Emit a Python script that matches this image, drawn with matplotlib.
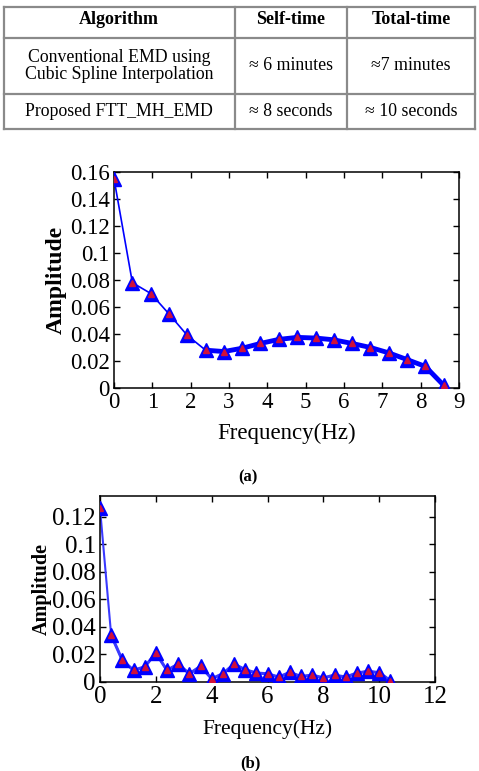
import numpy as np
import matplotlib
matplotlib.use("Agg")
import matplotlib.pyplot as plt

plt.rcParams['font.family'] = ['Liberation Serif', 'DejaVu Serif']

# table contents
table_header = ["Algorithm", "Self-time", "Total-time"]
table_rows = [
    ["Conventional EMD using\nCubic Spline Interpolation", "\u2248 6 minutes", "\u22487 minutes"],
    ["Proposed FTT_MH_EMD", "\u2248 8 seconds", "\u2248 10 seconds"],
]

# spectrum (a)
freq_a = [0.0, 0.48, 0.96, 1.43, 1.91, 2.39, 2.87, 3.35, 3.82, 4.30,
          4.78, 5.26, 5.73, 6.21, 6.69, 7.17, 7.65, 8.12, 8.60]
amp_a = [0.155, 0.078, 0.070, 0.055, 0.039, 0.028, 0.027, 0.0295, 0.033, 0.036,
         0.0375, 0.037, 0.0357, 0.033, 0.030, 0.026, 0.021, 0.016, 0.002]

# spectrum (b)
freq_b = [0.0, 0.4, 0.8, 1.2, 1.6, 2.0, 2.4, 2.8, 3.2, 3.6, 4.0, 4.4, 4.8, 5.2,
          5.6, 6.0, 6.4, 6.8, 7.2, 7.6, 8.0, 8.4, 8.8, 9.2, 9.6, 10.0, 10.4]
amp_b = [0.126, 0.034, 0.0158, 0.0085, 0.011, 0.021, 0.0085, 0.013, 0.006, 0.0114,
         0.0024, 0.006, 0.013, 0.009, 0.0065, 0.006, 0.0036, 0.007, 0.004, 0.005,
         0.003, 0.005, 0.0036, 0.0065, 0.0078, 0.0068, 0.001]

W, H = 479, 771
fig = plt.figure(figsize=(W / 100, H / 100), dpi=100)

# background axes in pixel coordinates for the table and captions
bg = fig.add_axes([0, 0, 1, 1])
bg.set_xlim(0, W)
bg.set_ylim(H, 0)
bg.axis('off')

gray = '#8a8a8a'
left, right, top, bottom = 4, 475, 7, 129
row_lines = [38, 94]
col_lines = [235, 347]
for y in [top, bottom] + row_lines:
    bg.plot([left, right], [y, y], color=gray, lw=1.6)
for x in [left, right] + col_lines:
    bg.plot([x, x], [top, bottom], color=gray, lw=1.6)

col_centers = [119, 291, 411]
for cx, txt in zip(col_centers, table_header):
    bg.text(cx, 19, txt, ha='center', va='center', fontsize=13, fontweight='bold')
row_centers = [66, 112]
for cy, row in zip(row_centers, table_rows):
    for cx, txt in zip(col_centers, row):
        bg.text(cx, cy, txt, ha='center', va='center', fontsize=12.8, linespacing=1.0)

bg.text(248, 477, "(a)", ha='center', va='center', fontsize=12, fontweight='bold')
bg.text(250, 763, "(b)", ha='center', va='center', fontsize=12, fontweight='bold')


def style_axes(ax, fs):
    ax.tick_params(direction='in', top=True, right=True, length=4, width=1,
                   labelsize=fs, pad=3)
    for s in ax.spines.values():
        s.set_linewidth(1.1)


def draw_spectrum(ax, f, a, thick_from, color, lw_thin, lw_thick):
    ax.plot(f, a, color=color, lw=lw_thin, zorder=2)
    ax.plot(f[thick_from:], a[thick_from:], color=color, lw=lw_thick, zorder=2)
    ax.plot(f, a, linestyle='none', marker='^', ms=9.5, mfc='blue', mec='blue', zorder=3)
    ax.plot(f, a, linestyle='none', marker='^', ms=4, mfc='#d0103a', mec='#d0103a', zorder=4)


# chart (a)
ax1 = fig.add_axes([114 / W, 1 - 388 / H, 345 / W, 216 / H])
draw_spectrum(ax1, freq_a, amp_a, 5, 'blue', 1.2, 3.5)
ax1.set_xlim(0, 9)
ax1.set_ylim(0, 0.16)
ax1.set_xticks(range(0, 10))
ax1.set_yticks(np.arange(0, 0.161, 0.02))
ax1.set_yticklabels(['0', '0.02', '0.04', '0.06', '0.08', '0.1', '0.12', '0.14', '0.16'])
style_axes(ax1, 16.5)
ax1.set_xlabel("Frequency(Hz)", fontsize=16.5, labelpad=7)
ax1.set_ylabel("Amplitude", fontsize=17, fontweight='bold', labelpad=2)

# chart (b)
ax2 = fig.add_axes([100 / W, 1 - 682 / H, 335 / W, 186 / H])
draw_spectrum(ax2, freq_b, amp_b, 1, '#3a3aff', 1.5, 2.2)
ax2.set_xlim(0, 12)
ax2.set_ylim(0, 0.135)
ax2.set_xticks(range(0, 13, 2))
ax2.set_yticks(np.arange(0, 0.121, 0.02))
ax2.set_yticklabels(['0', '0.02', '0.04', '0.06', '0.08', '0.1', '0.12'])
style_axes(ax2, 18)
ax2.set_xlabel("Frequency(Hz)", fontsize=15.5, labelpad=8)
ax2.set_ylabel("Amplitude", fontsize=14.5, fontweight='bold', labelpad=0)

fig.savefig("out.png", dpi=100)
